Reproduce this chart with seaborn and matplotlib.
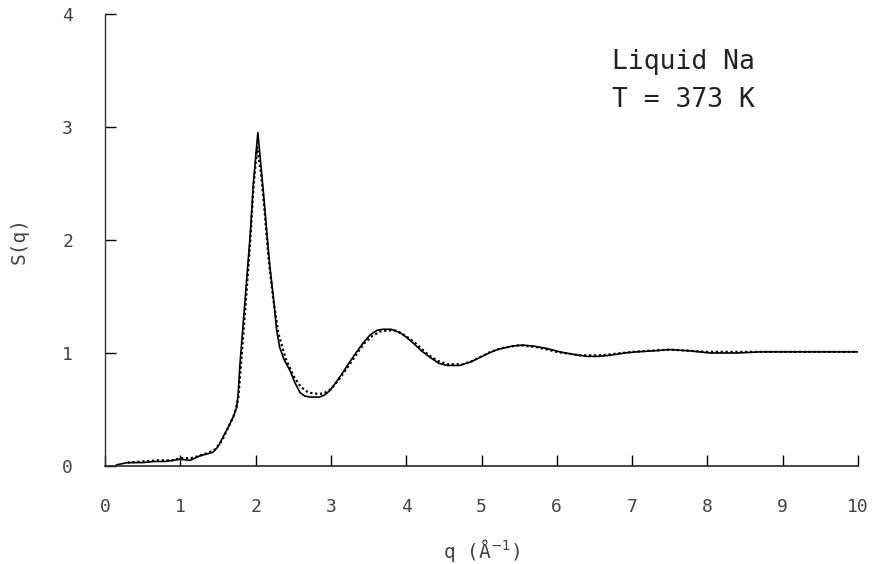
import matplotlib
matplotlib.use("Agg")
import matplotlib.pyplot as plt
import seaborn as sns
import pandas as pd

# Solid curve (calculation)
q_solid = [0.15, 0.3, 0.5, 0.65, 0.8, 1.0, 1.13, 1.26, 1.43, 1.5, 1.57, 1.65, 1.7, 1.75,
           1.77, 1.79, 1.86, 1.93, 1.97, 2.03, 2.1, 2.15, 2.19, 2.23, 2.28, 2.32, 2.38,
           2.46, 2.52, 2.59, 2.65, 2.72, 2.85, 2.92, 2.99, 3.1, 3.21, 3.32, 3.43, 3.52,
           3.61, 3.69, 3.8, 3.92, 4.0, 4.09, 4.2, 4.32, 4.43, 4.54, 4.71, 4.85, 4.98,
           5.1, 5.21, 5.4, 5.55, 5.7, 5.87, 6.04, 6.2, 6.4, 6.55, 6.71, 6.9, 7.06, 7.3,
           7.5, 7.75, 8.03, 8.4, 8.7, 9.36, 10.0]
s_solid = [0.01, 0.03, 0.03, 0.04, 0.04, 0.06, 0.05, 0.09, 0.12, 0.17, 0.26, 0.36, 0.43, 0.52,
           0.65, 0.88, 1.47, 2.06, 2.5, 2.95, 2.45, 2.06, 1.76, 1.53, 1.2, 1.05, 0.94,
           0.84, 0.74, 0.65, 0.62, 0.61, 0.61, 0.63, 0.67, 0.77, 0.88, 0.99, 1.09, 1.16,
           1.2, 1.21, 1.21, 1.18, 1.14, 1.09, 1.02, 0.96, 0.91, 0.89, 0.89, 0.92, 0.96,
           1.0, 1.03, 1.06, 1.07, 1.06, 1.04, 1.01, 0.99, 0.97, 0.97, 0.98, 1.0, 1.01, 1.02,
           1.03, 1.02, 1.0, 1.0, 1.01, 1.01, 1.01]

# Dotted curve (experiment)
q_dot = [0.3, 0.5, 0.7, 0.9, 1.0, 1.15, 1.3, 1.45, 1.55, 1.65, 1.72, 1.77, 1.8, 1.87, 1.93,
         1.97, 2.02, 2.07, 2.12, 2.17, 2.23, 2.3, 2.4, 2.5, 2.6, 2.7, 2.8, 2.9, 3.0,
         3.1, 3.25, 3.35, 3.45, 3.55, 3.65, 3.75, 3.85, 3.95, 4.1, 4.2, 4.3, 4.42, 4.55,
         4.75, 4.88, 5.0, 5.12, 5.25, 5.5, 5.75, 6.0, 6.3, 6.6, 7.0, 7.5, 8.0, 8.7,
         9.4, 10.0]
s_dot = [0.03, 0.04, 0.05, 0.05, 0.07, 0.07, 0.1, 0.14, 0.22, 0.36, 0.46, 0.6, 0.85, 1.45,
         2.0, 2.45, 2.82, 2.6, 2.25, 1.85, 1.5, 1.18, 0.95, 0.8, 0.7, 0.65, 0.64, 0.64,
         0.68, 0.76, 0.9, 1.0, 1.09, 1.15, 1.19, 1.2, 1.2, 1.17, 1.1, 1.04, 0.98, 0.93,
         0.9, 0.9, 0.93, 0.97, 1.01, 1.04, 1.07, 1.05, 1.01, 0.98, 0.98, 1.01, 1.03,
         1.01, 1.01, 1.01, 1.01]

x_ticks = [0, 1, 2, 3, 4, 5, 6, 7, 8, 9, 10]
y_ticks = [0, 1, 2, 3, 4]

sns.set_theme(style="ticks")
plt.rcParams['font.family'] = ['DejaVu Sans']

fig = plt.figure(figsize=(8.8, 5.64), dpi=100)
ax = fig.add_axes([105/880, 1 - 466/564, (858 - 105)/880, (466 - 14)/564])

df_s = pd.DataFrame({"q": q_solid, "S": s_solid})
df_d = pd.DataFrame({"q": q_dot, "S": s_dot})
sns.lineplot(data=df_s, x="q", y="S", ax=ax, color="black", linewidth=1.2, sort=False)
sns.lineplot(data=df_d, x="q", y="S", ax=ax, color="black", linewidth=1.6,
             linestyle=(0, (1, 1.2)), sort=False)

ax.set_xlim(0, 10)
ax.set_ylim(0, 4)
ax.set_xticks(x_ticks)
ax.set_yticks(y_ticks)
ax.set_xticklabels([str(t) for t in x_ticks])
ax.set_yticklabels([str(t) for t in y_ticks])
ax.tick_params(direction="in", length=8, width=1.0, colors="black",
               labelcolor="#444444", labelsize=13)
ax.tick_params(axis="x", pad=23)
ax.tick_params(axis="y", pad=23)
for t in ax.get_xticklabels() + ax.get_yticklabels():
    t.set_fontfamily("DejaVu Sans Mono")

sns.despine(ax=ax)
ax.spines["left"].set_linewidth(1.0)
ax.spines["bottom"].set_linewidth(1.2)
ax.spines["left"].set_color("#333333")

ax.set_xlabel("q (Å$^{-1}$)", fontsize=14, color="#444444", family="DejaVu Sans Mono",
              labelpad=15)
ax.set_ylabel("S(q)", fontsize=14, color="#444444", family="DejaVu Sans Mono",
              labelpad=24)

ax.text(6.73, 3.575, "Liquid Na", fontsize=19, color="#222222", family="DejaVu Sans Mono",
        va="center", ha="left")
ax.text(6.73, 3.24, "T = 373 K", fontsize=19, color="#222222", family="DejaVu Sans Mono",
        va="center", ha="left")

fig.savefig("out.png", dpi=100)
